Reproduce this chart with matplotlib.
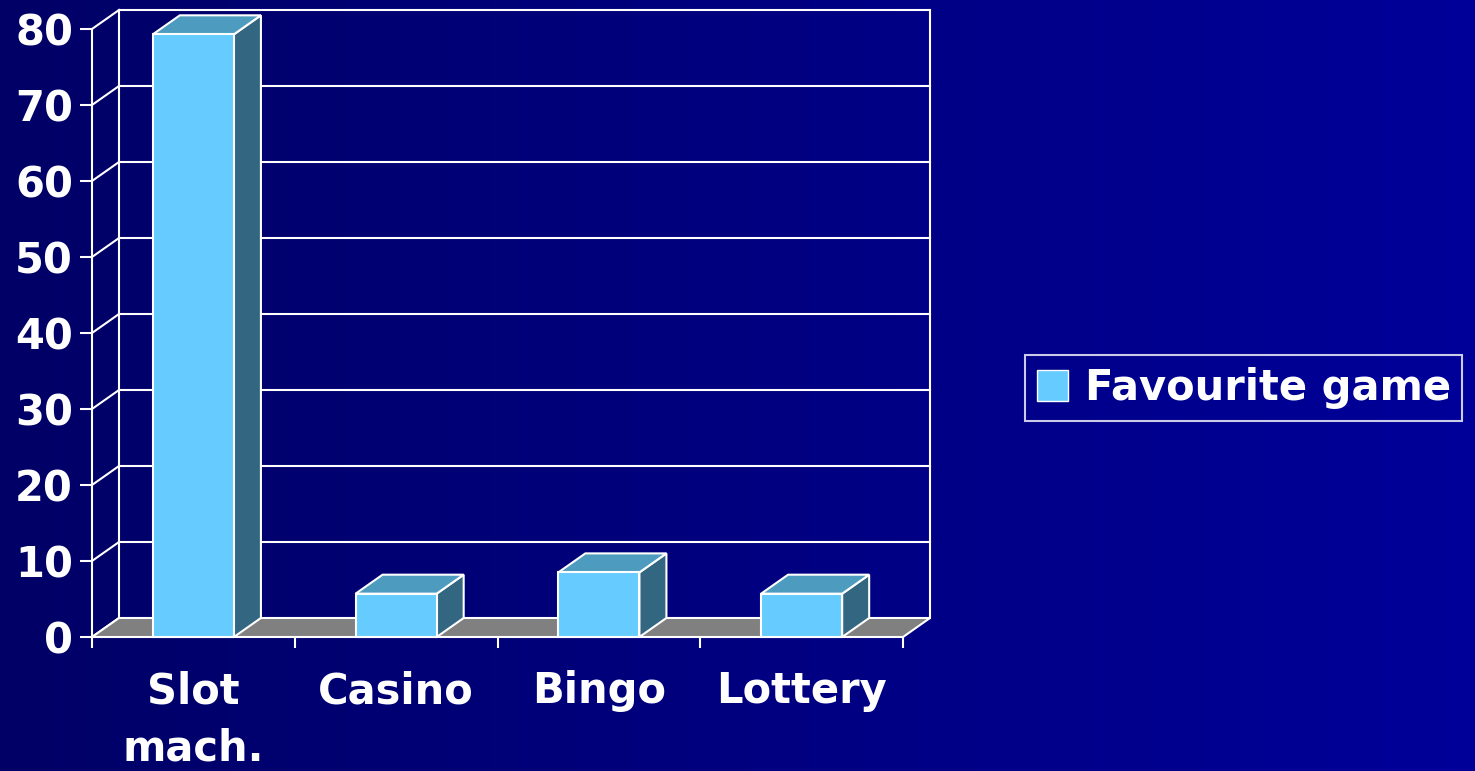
import numpy as np
import matplotlib.pyplot as plt
from matplotlib.patches import Polygon, Rectangle, Patch

# data
categories = ["Slot\nmach.", "Casino", "Bingo", "Lottery"]
values = [79.3, 5.7, 8.5, 5.7]
series_name = "Favourite game"
yticks = [0, 10, 20, 30, 40, 50, 60, 70, 80]

plt.rcParams['font.family'] = ['DejaVu Sans']
plt.rcParams['font.weight'] = 'bold'

W, H = 1475, 771
fig = plt.figure(figsize=(W / 100, H / 100), dpi=100)

# gradient background, dark navy on the left to brighter blue on the right
bg = fig.add_axes([0, 0, 1, 1], zorder=-10)
grad = np.linspace(0, 1, 256).reshape(1, -1)
c0 = np.array([0x00, 0x00, 0x66]) / 255
c1 = np.array([0x00, 0x00, 0x99]) / 255
img = c0[None, None, :] * (1 - grad[..., None]) + c1[None, None, :] * grad[..., None]
bg.imshow(img, aspect='auto', extent=[0, 1, 0, 1])
bg.axis('off')

# front face of the plot box (pixels)
ax = fig.add_axes([92 / W, 134 / H, 811 / W, 608 / H])
ax.set_xlim(0, len(categories))
ax.set_ylim(0, 80)
ax.patch.set_visible(False)
for s in ax.spines.values():
    s.set_visible(False)

# depth offset of the 3d look, 27px right and 19px up, in data units
ddx = 27 / (811 / len(categories))
ddy = 19 / (608 / 80)

white = 'white'
lw = 1.5
front_col = '#66CCFF'
top_col = '#4D9CBF'
side_col = '#336680'
nx = len(categories)

# back wall gridlines and edges
for v in yticks[1:]:
    ax.plot([ddx, nx + ddx], [v + ddy, v + ddy], color=white, lw=lw, clip_on=False, zorder=1)
ax.plot([ddx, ddx], [ddy, 80 + ddy], color=white, lw=lw, clip_on=False, zorder=1)
ax.plot([nx + ddx, nx + ddx], [ddy, 80 + ddy], color=white, lw=lw, clip_on=False, zorder=1)
# left wall diagonals
for v in yticks:
    ax.plot([0, ddx], [v, v + ddy], color=white, lw=lw, clip_on=False, zorder=1)
ax.plot([0, 0], [0, 80], color=white, lw=lw, clip_on=False, zorder=1)

# floor
ax.add_patch(Polygon([(0, 0), (nx, 0), (nx + ddx, ddy), (ddx, ddy)], closed=True,
                     facecolor='#808080', edgecolor=white, lw=lw, clip_on=False, zorder=2))

# bars
bw = 0.4
for i, v in enumerate(values):
    x0 = i + (1 - bw) / 2
    x1 = x0 + bw
    ax.add_patch(Polygon([(x1, 0), (x1 + ddx, ddy), (x1 + ddx, v + ddy), (x1, v)], closed=True,
                         facecolor=side_col, edgecolor=white, lw=lw, clip_on=False, zorder=3))
    ax.add_patch(Polygon([(x0, v), (x1, v), (x1 + ddx, v + ddy), (x0 + ddx, v + ddy)], closed=True,
                         facecolor=top_col, edgecolor=white, lw=lw, clip_on=False, zorder=3))
    ax.add_patch(Rectangle((x0, 0), bw, v, facecolor=front_col, edgecolor=white, lw=lw,
                           clip_on=False, zorder=4))

# ticks
ax.set_yticks(yticks)
ax.set_yticklabels([str(t) for t in yticks], fontsize=30, fontweight='bold', color=white)
ax.tick_params(axis='y', direction='out', length=8.6, width=lw, color=white, pad=5)

ax.set_xticks(range(nx + 1))
ax.set_xticklabels([''] * (nx + 1))
ax.tick_params(axis='x', which='major', direction='out', length=8, width=lw, color=white)
ax.set_xticks([i + 0.5 for i in range(nx)], minor=True)
ax.set_xticklabels(categories, minor=True, fontsize=30, fontweight='bold', color=white,
                   linespacing=1.45)
ax.tick_params(axis='x', which='minor', length=0, pad=24)

# legend
handle = Patch(facecolor=front_col, edgecolor=white, lw=1)
leg = fig.legend([handle], [series_name], loc='center left',
                 bbox_to_anchor=(1025 / W, 383 / H), frameon=True, fancybox=False,
                 prop={'size': 30, 'weight': 'bold'}, labelcolor=white,
                 handlelength=0.75, handleheight=0.75, handletextpad=0.4,
                 borderpad=0.28, borderaxespad=0)
leg.get_frame().set_facecolor('none')
leg.get_frame().set_edgecolor(white)
leg.get_frame().set_linewidth(1.5)

fig.savefig('out.png', dpi=100)
